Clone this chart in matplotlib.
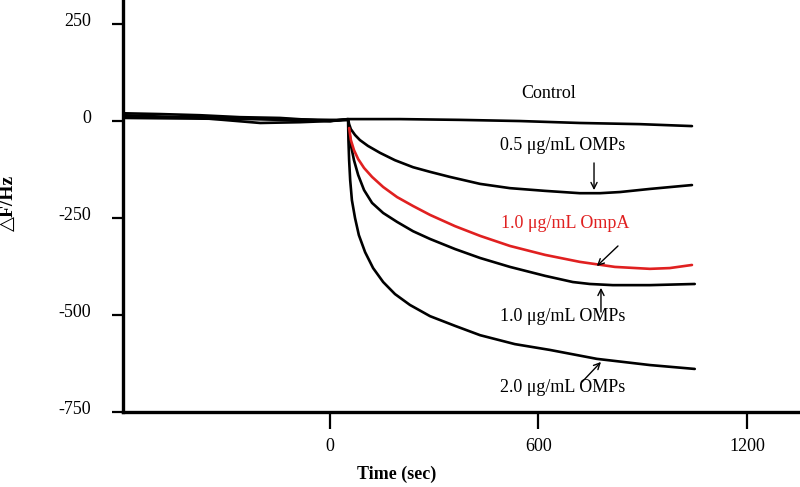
import matplotlib
matplotlib.use("Agg")
import matplotlib.pyplot as plt
import matplotlib.transforms as mtransforms

# ---- data ----
ctrl_x = [-596, -489, -374, -259, -144, -58, 0, 52, 86, 201, 374, 547, 719, 892, 1042]
ctrl_y = [20, 18, 15, 10, 8, 3, 0, 5, 5, 5, 3, 0, -5, -8, -13]

omp05_x = [-596, -230, 0, 52, 55, 60, 72, 86, 109, 144, 187, 239, 288, 345, 432, 518, 619, 719, 777, 835, 921, 1042]
omp05_y = [8, 5, 0, 5, -8, -21, -36, -49, -64, -82, -101, -119, -131, -144, -162, -173, -180, -186, -186, -183, -175, -165]

ompa10_x = [55, 60, 69, 81, 98, 121, 153, 193, 239, 288, 360, 432, 518, 619, 719, 820, 921, 978, 1042]
ompa10_y = [-18, -49, -75, -98, -121, -144, -170, -196, -219, -242, -271, -296, -322, -345, -363, -376, -381, -379, -371]

omp10_x = [-596, -374, -144, 0, 52, 55, 60, 69, 81, 98, 121, 153, 193, 239, 288, 360, 432, 518, 619, 699, 748, 814, 921, 1050]
omp10_y = [10, 10, 5, 3, 3, -23, -62, -101, -139, -178, -211, -237, -260, -284, -304, -330, -353, -376, -399, -415, -420, -423, -423, -420]

omp20_x = [-596, -374, -201, -86, 0, 52, 53, 55, 58, 63, 72, 83, 101, 124, 153, 187, 230, 288, 360, 432, 532, 633, 768, 921, 1050]
omp20_y = [15, 8, -5, -3, 0, 3, -49, -101, -152, -204, -250, -294, -338, -379, -415, -446, -474, -503, -528, -552, -575, -590, -613, -629, -639]

x_ticks = [0, 600, 1200]
x_ticklabels = ["0", "600", "1200"]
y_ticks = [250, 0, -250, -500, -750]
y_ticklabels = ["250", "0", "-250", "-500", "-750"]

labels = ["Control", "0.5 μg/mL OMPs", "1.0 μg/mL OmpA", "1.0 μg/mL OMPs", "2.0 μg/mL OMPs"]

# ---- figure ----
serif = ["Liberation Serif", "DejaVu Serif"]
plt.rcParams["font.family"] = serif
fig = plt.figure(figsize=(8, 4.87), dpi=100)
ax = fig.add_axes([123/800, 75/487, 677/800, 412/487])

lw = 1.9
kw = dict(lw=lw, solid_joinstyle="round", solid_capstyle="round")
ax.plot(ctrl_x, ctrl_y, color="black", **kw)
ax.plot(omp05_x, omp05_y, color="black", **kw)
ax.plot(omp10_x, omp10_y, color="black", **kw)
ax.plot(omp20_x, omp20_y, color="black", **kw)
ax.plot(ompa10_x, ompa10_y, color="#e02020", **kw)

ax.set_xlim(-596, 1353)
ax.set_ylim(-750, 312)

for s in ["top", "right"]:
    ax.spines[s].set_visible(False)
for s in ["left", "bottom"]:
    ax.spines[s].set_linewidth(2.4)

ax.set_xticks(x_ticks)
ax.set_xticklabels(x_ticklabels, fontsize=13)
ax.set_yticks(y_ticks)
ax.set_yticklabels(y_ticklabels, fontsize=13)
ax.tick_params(axis="x", direction="out", length=12, width=1.6, pad=7)
ax.tick_params(axis="y", direction="out", length=8, width=1.6, pad=15)
off = mtransforms.ScaledTranslation(0, 5/100, fig.dpi_scale_trans)
for t in ax.get_yticklabels():
    t.set_transform(t.get_transform() + off)

fs = 13
ax.text(630, 72, labels[0], ha="center", va="center", fontsize=fs)
ax.text(671, -64, labels[1], ha="center", va="center", fontsize=fs)
ax.text(676, -265, labels[2], ha="center", va="center", fontsize=fs, color="#e02020")
ax.text(671, -503, labels[3], ha="center", va="center", fontsize=fs)
ax.text(671, -686, labels[4], ha="center", va="center", fontsize=fs)

ap = dict(arrowstyle="->", lw=1.0, color="black", shrinkA=0, shrinkB=0, mutation_scale=11)
ax.annotate("", xy=(760, -178), xytext=(760, -108), arrowprops=ap)
ax.annotate("", xy=(768, -374), xytext=(829, -322), arrowprops=ap)
ax.annotate("", xy=(780, -430), xytext=(780, -492), arrowprops=ap)
ax.annotate("", xy=(780, -621), xytext=(725, -673), arrowprops=ap)

fig.text(8/800, 1 - 203/487, "△F/Hz", rotation=90, ha="center", va="center",
         fontsize=14, fontweight="bold", family=["Liberation Serif", "DejaVu Sans"])
fig.text(397/800, 1 - 474/487, "Time (sec)", ha="center", va="center",
         fontsize=13, fontweight="bold")

fig.savefig("out.png", dpi=100)
